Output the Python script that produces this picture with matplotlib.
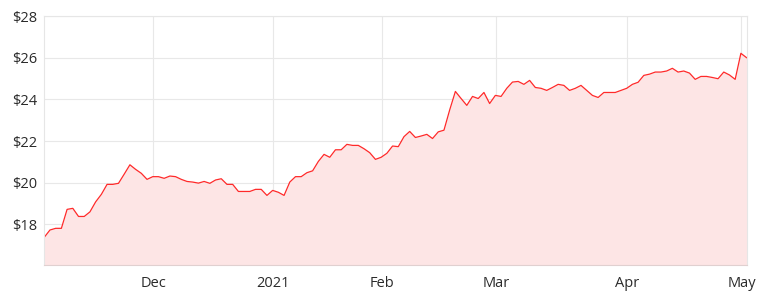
import matplotlib.pyplot as plt

# closing prices, one per trading day
prices = [
    17.38, 17.73, 17.81, 17.81, 18.72, 18.77, 18.38, 18.38, 18.60, 19.08,
    19.44, 19.92, 19.92, 19.97, 20.41, 20.86, 20.64, 20.45, 20.16, 20.29,
    20.29, 20.21, 20.32, 20.29, 20.16, 20.06, 20.03, 19.98, 20.06, 19.97,
    20.13, 20.19, 19.92, 19.92, 19.58, 19.58, 19.58, 19.68, 19.68, 19.39,
    19.63, 19.54, 19.39, 20.03, 20.29, 20.29, 20.48, 20.57, 21.02, 21.36,
    21.22, 21.58, 21.58, 21.84, 21.79, 21.79, 21.63, 21.44, 21.12, 21.22,
    21.41, 21.76, 21.73, 22.21, 22.46, 22.17, 22.24, 22.32, 22.12, 22.44,
    22.52, 23.49, 24.38, 24.04, 23.71, 24.14, 24.04, 24.33, 23.80, 24.19,
    24.14, 24.53, 24.83, 24.86, 24.72, 24.91, 24.57, 24.53, 24.43, 24.57,
    24.72, 24.67, 24.43, 24.53, 24.67, 24.43, 24.19, 24.09, 24.33, 24.33,
    24.33, 24.43, 24.53, 24.72, 24.82, 25.15, 25.21, 25.31, 25.31, 25.36,
    25.49, 25.31, 25.36, 25.26, 24.96, 25.10, 25.10, 25.05, 24.99, 25.31,
    25.17, 24.96, 26.21, 26.00,
]
days = list(range(len(prices)))

month_labels = ["Dec", "2021", "Feb", "Mar", "Apr", "May"]
month_pos = [19.1, 40.1, 59.1, 79.2, 102.1, 122.1]
price_ticks = [18, 20, 22, 24, 26, 28]

plt.rcParams['font.family'] = ['Open Sans', 'DejaVu Sans']

fig = plt.figure(figsize=(7.63, 3.02), dpi=100)
ax = fig.add_axes([0.058, 0.1225, 0.9205, 0.8245])

ax.fill_between(days, prices, 16.05, color='#fde5e5', lw=0)
ax.plot(days, prices, color='#ff2a2a', lw=0.9)

ax.set_xlim(0, len(prices) - 1)
ax.set_ylim(16.05, 28)
ax.set_xticks(month_pos)
ax.set_xticklabels(month_labels)
ax.set_yticks(price_ticks)
ax.set_yticklabels([f"${v}" for v in price_ticks])

ax.grid(True, color='#e8e8e8', lw=0.8)
ax.set_axisbelow(True)
ax.tick_params(length=0, labelsize=10.5, colors='#2b2b2b', pad=5)
ax.tick_params(axis='x', pad=8)
for side in ['top', 'right', 'left']:
    ax.spines[side].set_color('#e6e6e6')
    ax.spines[side].set_linewidth(0.8)
ax.spines['bottom'].set_color('#e0d0d0')
ax.spines['bottom'].set_linewidth(0.8)

fig.savefig('out.png', dpi=100)
